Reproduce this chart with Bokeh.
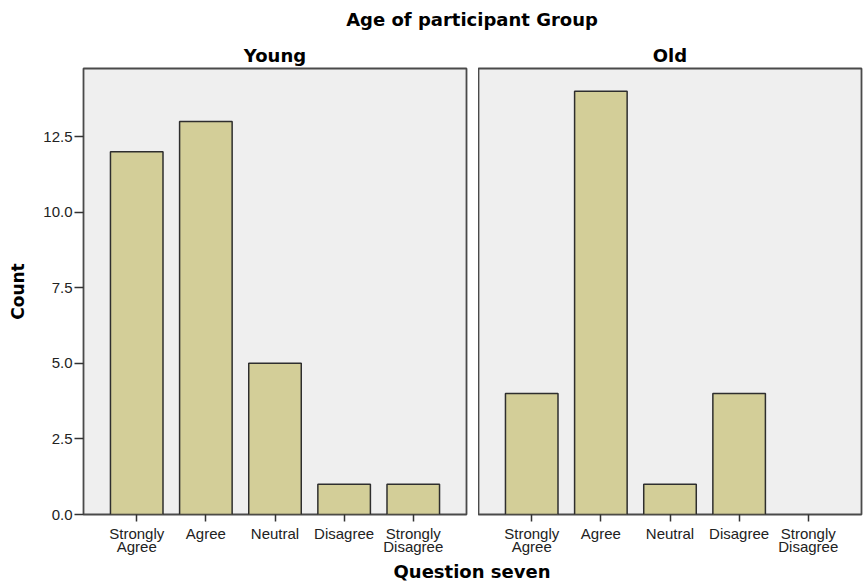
from bokeh.plotting import figure
from bokeh.models import (FactorRange, Range1d, FixedTicker, PrintfTickFormatter,
                          Div, ColumnDataSource)
from bokeh.layouts import column, row
from bokeh.embed import file_html
from bokeh.resources import INLINE

# ---- data ----
categories = ["Strongly Agree", "Agree", "Neutral", "Disagree", "Strongly Disagree"]
tick_labels = ["Strongly\nAgree", "Agree", "Neutral", "Disagree", "Strongly\nDisagree"]
groups = ["Young", "Old"]
young_counts = [12, 13, 5, 1, 1]
old_counts = [4, 14, 1, 4, 0]
y_ticks = [0, 2.5, 5, 7.5, 10, 12.5]

chart_title = "Age of participant Group"
x_title = "Question seven"
y_title = "Count"

BAR = "#d3ce98"
BG = "#efefef"
BOLD_FONT = "DejaVu Sans"
TICK_FONT = "Liberation Sans"

y_range = Range1d(0, 14.75)
label_of = dict(zip(categories, tick_labels))


def panel(name, counts, first):
    p = figure(
        x_range=FactorRange(factors=tick_labels, range_padding=0.108),
        y_range=y_range,
        width=478 if first else 385,
        height=528,
        title=name,
        output_backend="svg",
        toolbar_location=None,
        y_axis_location="left" if first else None,
        min_border_left=83 if first else 0,
        min_border_right=12 if first else 2,
        min_border_top=34,
        min_border_bottom=48,
    )
    p.title.align = "center"
    p.title.text_font = BOLD_FONT
    p.title.text_font_style = "bold"
    p.title.text_font_size = "18px"
    p.title.text_color = "#000000"
    p.title.standoff = 6

    p.background_fill_color = BG
    p.border_fill_color = "white"
    p.outline_line_color = "#4a4a4a"
    p.outline_line_width = 1.8
    p.xgrid.visible = False
    p.ygrid.visible = False

    keep = [(label_of[c], v) for c, v in zip(categories, counts) if v > 0]
    src = ColumnDataSource(dict(cat=[k[0] for k in keep], count=[k[1] for k in keep]))
    p.vbar(x="cat", top="count", width=0.76, source=src,
           fill_color=BAR, line_color="#2e2e2e", line_width=1.5)

    xa = p.xaxis[0]
    xa.axis_line_color = None
    xa.major_tick_line_color = "#333333"
    xa.major_tick_line_width = 1.5
    xa.major_tick_out = 7
    xa.major_tick_in = 0
    xa.major_label_standoff = 3
    xa.major_label_text_font = TICK_FONT
    xa.major_label_text_font_size = "15px"
    xa.major_label_text_color = "#222222"
    xa.major_label_text_line_height = 0.8

    if first:
        ya = p.yaxis[0]
        ya.axis_line_color = None
        ya.ticker = FixedTicker(ticks=y_ticks)
        ya.formatter = PrintfTickFormatter(format="%.1f")
        ya.major_tick_line_color = "#333333"
        ya.major_tick_line_width = 1.5
        ya.major_tick_out = 9
        ya.major_tick_in = 0
        ya.minor_tick_line_color = None
        ya.major_label_standoff = 2
        ya.major_label_text_font = TICK_FONT
        ya.major_label_text_font_size = "15px"
        ya.major_label_text_color = "#222222"
        ya.axis_label = y_title
        ya.axis_label_text_font = BOLD_FONT
        ya.axis_label_text_font_style = "bold"
        ya.axis_label_text_font_size = "17px"
        ya.axis_label_text_color = "#000000"
        ya.axis_label_standoff = 12
    return p


p_young = panel(groups[0], young_counts, True)
p_old = panel(groups[1], old_counts, False)

title_div = Div(
    text=f'<div style="margin-left:83px;width:778px;margin-top:8px;text-align:center;'
         f'font-family:\'DejaVu Sans\';font-weight:bold;font-size:18px;'
         f'line-height:24px;color:#000">{chart_title}</div>',
    width=863, height=34, styles={"margin": "0", "padding": "0"})
x_div = Div(
    text=f'<div style="margin-left:83px;width:778px;text-align:center;'
         f'font-family:\'DejaVu Sans\';font-weight:bold;font-size:18px;'
         f'line-height:20px;color:#000">{x_title}</div>',
    width=863, height=20, styles={"margin": "0", "padding": "0"})

layout = column(title_div, row(p_young, p_old), x_div)

open("out.html", "w").write(file_html(layout, INLINE))
